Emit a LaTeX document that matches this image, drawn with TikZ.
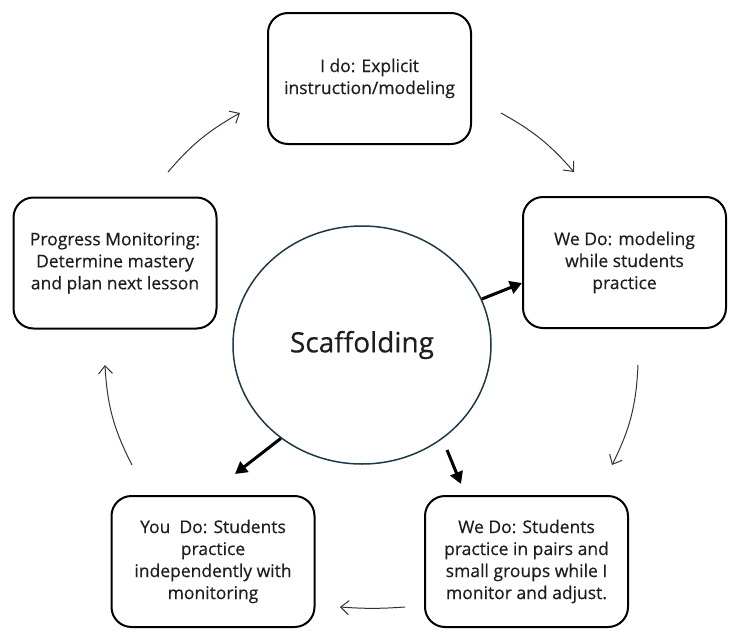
\documentclass[tikz,border=0pt]{standalone}
\usepackage{fontspec}
\setmainfont{Open Sans}[UprightFeatures={FakeBold=0.5}]
\usetikzlibrary{arrows.meta,shapes.geometric}
\definecolor{txt}{HTML}{1E1E1E}
\definecolor{ring}{HTML}{1F3845}
\tikzset{
  stage/.style={draw=black, line width=2pt, rounded corners=20pt, minimum width=203pt, minimum height=131pt, align=center, text=txt, font=\fontsize{17.5}{22}\selectfont, inner sep=0pt},
  flow/.style={draw=black!80, line width=1pt, -{Straight Barb[length=8pt,width=14pt,line width=1pt]}},
  push/.style={draw=black, line width=3pt, -{Triangle[length=12pt,width=13pt]}}
}
\begin{document}
\begin{tikzpicture}[x=1pt,y=-1pt]
\useasboundingbox (0,0) rectangle (732,632);
\node[stage] (ido) at (369.5,78.5) {I do: Explicit\\instruction/modeling};
\node[stage] (wedo1) at (624.5,262.5) {We Do: modeling\\while students\\practice};
\node[stage] (pm) at (115,263) {Progress Monitoring:\\Determine mastery\\and plan next lesson};
\node[stage] (youdo) at (213,561.5) {You\ \ Do: Students\\practice\\independently with\\monitoring};
\node[stage] (wedo2) at (526.5,561.5) {We Do: Students\\practice in pairs and\\small groups while I\\monitor and adjust.};
\node[draw=ring, line width=1.5pt, ellipse, minimum width=258pt, minimum height=238pt, inner sep=0pt, text=txt, font=\fontsize{28}{32}\selectfont] (sc) at (362,345) {Scaffolding};

% cycle arrows
\coordinate (a1s) at (168,172); \coordinate (a1e) at (240,113);
\coordinate (a2s) at (501,113); \coordinate (a2e) at (574,172);
\coordinate (a3s) at (638,365); \coordinate (a3e) at (612,465);
\coordinate (a4s) at (405,607); \coordinate (a4e) at (340,607);
\coordinate (a5s) at (132,465); \coordinate (a5e) at (105,365);
\draw[flow] (a1s) to[bend left=10] (a1e);
\draw[flow] (a2s) to[bend left=10] (a2e);
\draw[flow] (a3s) to[bend left=12] (a3e);
\draw[flow] (a4s) to[bend left=4] (a4e);
\draw[flow] (a5s) to[bend left=12] (a5e);

% scaffolding arrows
\coordinate (p1e) at (522,283);
\coordinate (p2e) at (235,474);
\coordinate (p3s) at (447,450); \coordinate (p3e) at (461,484);
\draw[push] (sc.21) -- (p1e);
\draw[push] (sc.229) -- (p2e);
\draw[push] (p3s) -- (p3e);
\end{tikzpicture}
\end{document}
